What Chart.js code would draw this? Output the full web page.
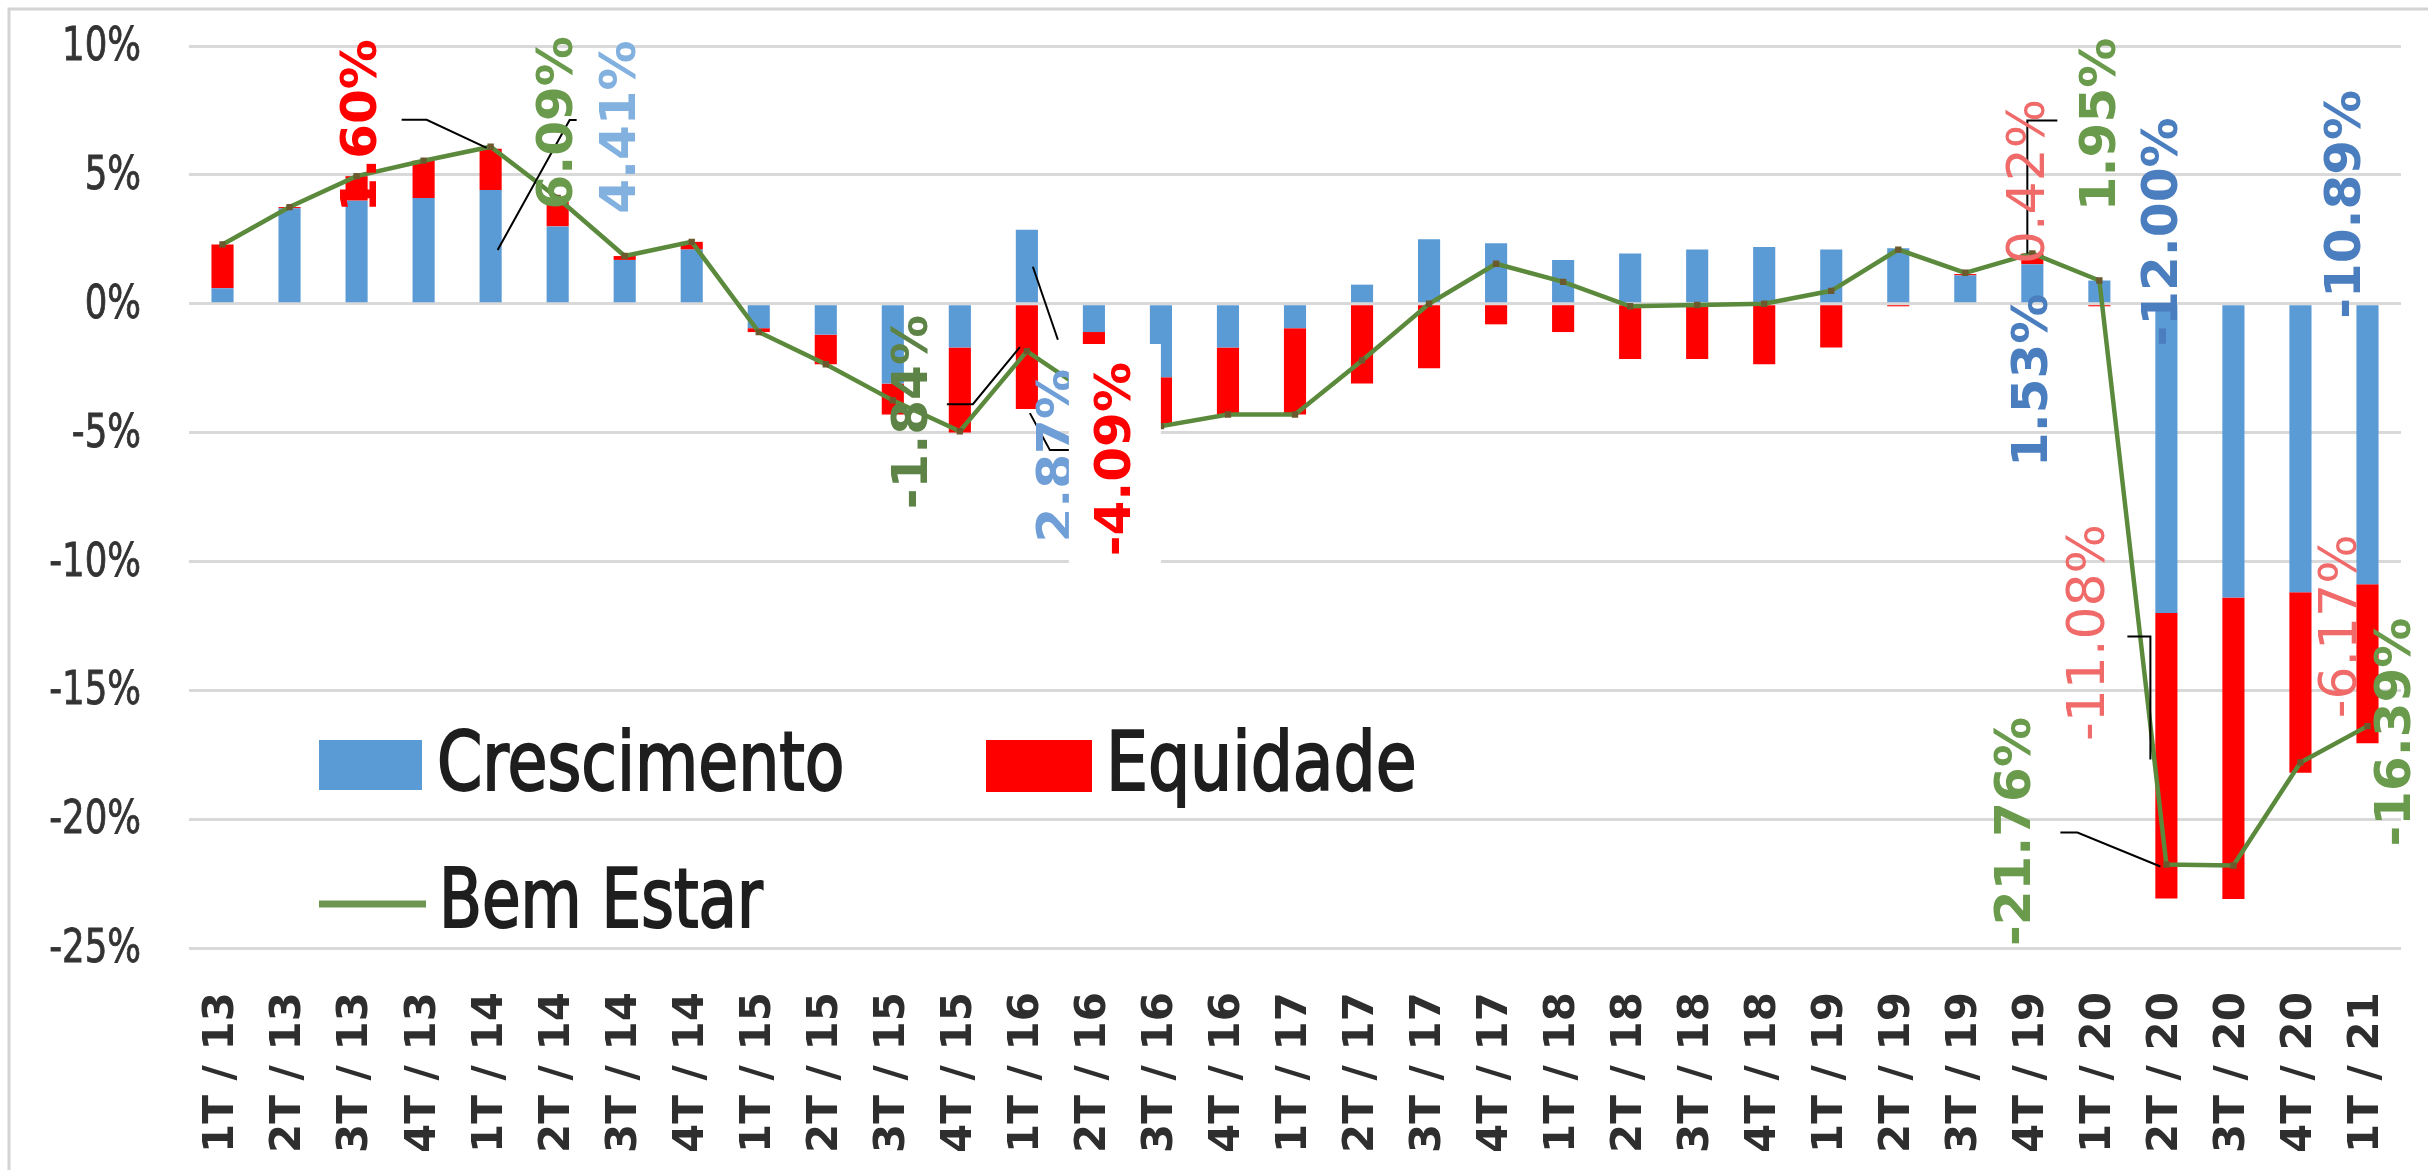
<!DOCTYPE html>
<html lang="pt">
<head>
<meta charset="UTF-8">
<title>Crescimento, Equidade e Bem Estar</title>
<script src="https://cdn.jsdelivr.net/npm/chart.js"></script>
<style>
  html, body { margin: 0; padding: 0; background: #fff; }
  #caixa { width: 2428px; height: 1170px; position: relative; }
</style>
</head>
<body>
<div id="caixa"><canvas id="grafico"></canvas></div>
<script>
// dados (variação trimestral, %)
const trimestres = ['1T / 13','2T / 13','3T / 13','4T / 13','1T / 14','2T / 14','3T / 14','4T / 14',
  '1T / 15','2T / 15','3T / 15','4T / 15','1T / 16','2T / 16','3T / 16','4T / 16',
  '1T / 17','2T / 17','3T / 17','4T / 17','1T / 18','2T / 18','3T / 18','4T / 18',
  '1T / 19','2T / 19','3T / 19','4T / 19','1T / 20','2T / 20','3T / 20','4T / 20','1T / 21'];
const crescimento = [0.6, 3.7, 4.0, 4.1, 4.41, 3.0, 1.7, 2.1,
  -0.95, -1.2, -3.1, -1.7, 2.87, -1.1, -2.85, -1.7,
  -0.95, 0.74, 2.5, 2.35, 1.7, 1.95, 2.1, 2.2,
  2.1, 2.15, 1.1, 1.53, 0.9, -12.00, -11.4, -11.2, -10.89];
const equidade = [1.7, 0.05, 0.95, 1.45, 1.60, 0.95, 0.15, 0.3,
  -0.15, -1.15, -1.2, -3.3, -4.09, -2.5, -1.8, -2.6,
  -3.35, -3.1, -2.5, -0.8, -1.1, -2.15, -2.15, -2.35,
  -1.7, -0.1, 0.05, 0.42, -0.1, -11.08, -11.7, -7.0, -6.17];
const bemEstar = [2.3, 3.75, 4.95, 5.55, 6.09, 4.1, 1.85, 2.4,
  -1.1, -2.35, -3.75, -4.95, -1.84, -3.6, -4.75, -4.3,
  -4.3, -2.2, 0.0, 1.55, 0.85, -0.1, -0.05, 0.0,
  0.5, 2.1, 1.2, 1.95, 0.9, -21.76, -21.8, -17.8, -16.39];
const ticksY = [10, 5, 0, -5, -10, -15, -20, -25];

const AZUL = '#5b9bd5', VERMELHO = '#ff0000', VERDE = '#5b8a3c';
const fonteEstreita = "'Liberation Sans Narrow', 'DejaVu Sans Condensed', 'Open Sans', sans-serif";
const fonteRotulo = "'DejaVu Sans', Verdana, sans-serif";

// rótulos de dados: série, índice, deslocamento (px) a partir do ponto, estilo
const rotulos = [
  { ds: 1, i: 4,  dx: -130, dy: -23,  cor: '#ff0000', peso: 'bold' },
  { ds: 2, i: 4,  dx: 66,   dy: -24,  cor: '#6a9a4c', peso: 'bold' },
  { ds: 0, i: 4,  dx: 129,  dy: -63,  cor: '#82b1e0', peso: 'bold' },
  { ds: 0, i: 12, dx: 30,   dy: 226,  cor: '#6f9fd6', peso: 'bold' },
  { ds: 1, i: 12, dx: 88,   dy: 50,   cor: '#ff0000', peso: 'bold', fundo: true },
  { ds: 2, i: 12, dx: -115, dy: 61,   cor: '#5d8446', peso: 'bold' },
  { ds: 0, i: 27, dx: 0,    dy: 116,  cor: '#4a7ebf', peso: 'bold' },
  { ds: 1, i: 27, dx: -4,   dy: -72,  cor: '#f06a6a', peso: 'normal' },
  { ds: 2, i: 27, dx: 68,   dy: -129, cor: '#6a9a4c', peso: 'bold' },
  { ds: 0, i: 29, dx: -4,   dy: -381, cor: '#4a7ebf', peso: 'bold' },
  { ds: 1, i: 29, dx: -78,  dy: -266, cor: '#f06a6a', peso: 'normal' },
  { ds: 2, i: 29, dx: -151, dy: -33,  cor: '#6a9a4c', peso: 'bold' },
  { ds: 0, i: 32, dx: -22,  dy: -380, cor: '#4a7ebf', peso: 'bold' },
  { ds: 1, i: 32, dx: -27,  dy: -117, cor: '#f06a6a', peso: 'normal' },
  { ds: 2, i: 32, dx: 28,   dy: 6,    cor: '#6a9a4c', peso: 'bold' }
];
// linhas de chamada (px relativos ao ponto do dado)
const chamadas = [
  { ds: 1, i: 4,  pts: [[-89, -29], [-64, -29], [-4, -1]] },
  { ds: 0, i: 4,  pts: [[7, 60], [79, -70], [86, -70]] },
  { ds: 0, i: 12, pts: [[6, 37], [31, 110]] },
  { ds: 1, i: 12, pts: [[3, 4], [23, 41], [43, 41]] },
  { ds: 2, i: 12, pts: [[-80, 53], [-54, 53], [-7, -4]] },
  { ds: 1, i: 27, pts: [[25, -133], [-5, -133], [-5, 0]] },
  { ds: 1, i: 29, pts: [[-39, -262], [-16, -262], [-16, -139]] },
  { ds: 2, i: 29, pts: [[-106, -32], [-89, -32], [-6, 2]] }
];

const pct = v => v.toFixed(2) + '%';

// texto estreitado na horizontal (a fonte original é condensada)
function textoEstreito(c, txt, x, y, fator, traco) {
  c.save();
  c.translate(x, y);
  c.scale(fator, 1);
  if (traco) {
    c.strokeStyle = c.fillStyle;
    c.lineWidth = traco;
    c.strokeText(txt, 0, 0);
  }
  c.fillText(txt, 0, 0);
  c.restore();
}

const moldura = {
  id: 'moldura',
  beforeDraw(chart) {
    const c = chart.ctx;
    c.save();
    c.strokeStyle = '#d4d4d4';
    c.lineWidth = 3;
    c.beginPath();
    c.moveTo(9, chart.height);
    c.lineTo(9, 9);
    c.lineTo(chart.width, 9);
    c.stroke();
    c.restore();
  },
  afterDraw(chart) {
    // rótulos do eixo y
    const c = chart.ctx, y = chart.scales.y;
    c.save();
    c.font = '47px ' + fonteEstreita;
    c.fillStyle = '#333';
    c.textAlign = 'right';
    c.textBaseline = 'middle';
    ticksY.forEach(v => textoEstreito(c, v + '%', 141, y.getPixelForValue(v) + 2, 0.84, 0.8));
    c.restore();
  }
};

const anotacoes = {
  id: 'anotacoes',
  afterDatasetsDraw(chart) {
    const c = chart.ctx;
    const ponto = (ds, i) => chart.getDatasetMeta(ds).data[i];
    const valores = [crescimento, equidade, bemEstar];

    c.save();
    // chamadas
    c.strokeStyle = '#000';
    c.lineWidth = 2;
    chamadas.forEach(ch => {
      const p = ponto(ch.ds, ch.i);
      c.beginPath();
      ch.pts.forEach(([dx, dy], k) => {
        if (k === 0) c.moveTo(p.x + dx, p.y + dy); else c.lineTo(p.x + dx, p.y + dy);
      });
      c.stroke();
    });

    // rótulos girados
    rotulos.forEach(r => {
      const p = ponto(r.ds, r.i);
      const txt = pct(valores[r.ds][r.i]);
      const tam = r.peso === 'bold' ? 50 : 52;
      c.save();
      c.translate(p.x + r.dx, p.y + r.dy);
      c.rotate(-Math.PI / 2);
      c.font = r.peso + ' ' + tam + 'px ' + fonteRotulo;
      c.textAlign = 'center';
      c.textBaseline = 'middle';
      if (r.fundo) {
        const w = c.measureText(txt).width;
        c.fillStyle = '#fff';
        c.fillRect(-w / 2 - 18, -46, w + 36, 92);
      }
      c.fillStyle = r.cor;
      c.fillText(txt, 0, 2);
      c.restore();
    });

    // legenda dentro da área do gráfico
    const a = chart.chartArea;
    const ds = chart.data.datasets;
    c.font = '82px ' + fonteEstreita;
    c.textBaseline = 'alphabetic';
    c.textAlign = 'left';
    c.fillStyle = ds[0].backgroundColor;
    c.fillRect(a.left + 130, 740, 103, 50);
    c.fillStyle = '#1e1e1e';
    textoEstreito(c, ds[0].label, a.left + 248, 790, 0.88, 2);
    c.fillStyle = ds[1].backgroundColor;
    c.fillRect(a.left + 797, 740, 106, 52);
    c.fillStyle = '#1e1e1e';
    textoEstreito(c, ds[1].label, a.left + 917, 790, 0.9, 2);
    c.strokeStyle = '#6f9650';
    c.lineWidth = 7;
    c.beginPath();
    c.moveTo(a.left + 130, 904);
    c.lineTo(a.left + 237, 904);
    c.stroke();
    c.fillStyle = '#1e1e1e';
    textoEstreito(c, ds[2].label, a.left + 250, 927, 0.85, 2);
    c.restore();
  }
};

new Chart(document.getElementById('grafico'), {
  data: {
    labels: trimestres,
    datasets: [
      { type: 'bar', label: 'Crescimento', data: crescimento, backgroundColor: AZUL,
        stack: 'bem', order: 1, categoryPercentage: 1, barPercentage: 0.33 },
      { type: 'bar', label: 'Equidade', data: equidade, backgroundColor: VERMELHO,
        stack: 'bem', order: 2, categoryPercentage: 1, barPercentage: 0.33 },
      { type: 'line', label: 'Bem Estar', data: bemEstar, borderColor: VERDE, borderWidth: 4.5,
        pointStyle: 'rect', pointRadius: 4.5, pointBackgroundColor: '#6b5a2e',
        pointBorderWidth: 0, tension: 0, order: 0 }
    ]
  },
  options: {
    responsive: true,
    maintainAspectRatio: false,
    devicePixelRatio: 1,
    animation: false,
    layout: { padding: { top: 46, right: 27, left: 0, bottom: 0 } },
    plugins: { legend: { display: false }, tooltip: { enabled: false } },
    scales: {
      x: {
        stacked: true,
        grid: { display: false, drawTicks: false },
        border: { display: false },
        ticks: {
          autoSkip: false, maxRotation: 90, minRotation: 90, padding: 44,
          color: '#2e2e2e', font: { family: fonteRotulo, size: 42, weight: 'bold' }
        },
        afterFit(s) { s.height = 222; s.paddingLeft = 0; s.paddingRight = 0; }
      },
      y: {
        stacked: true,
        min: -25, max: 10,
        grid: { color: '#d9d9d9', lineWidth: 3, drawTicks: false },
        border: { display: false },
        afterBuildTicks(s) { s.ticks = ticksY.slice().reverse().map(v => ({ value: v })); },
        ticks: { display: false },
        afterFit(s) { s.width = 189; s.paddingTop = 0; s.paddingBottom = 0; }
      }
    }
  },
  plugins: [moldura, anotacoes]
});
</script>
</body>
</html>
